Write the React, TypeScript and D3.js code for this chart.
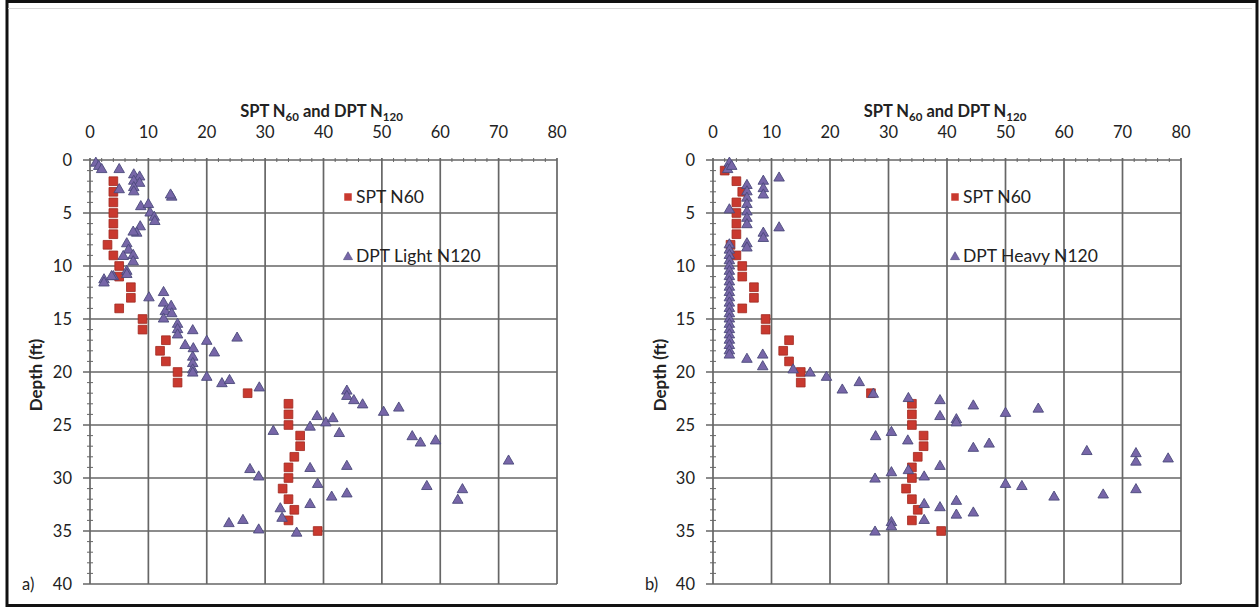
import React from "react";
import * as d3 from "d3";

// ---- Data (N value, depth ft) ----
const sptA: [number, number][] = [
  [4, 2], [4, 3], [4, 4], [4, 5], [4, 6], [4, 7], [3, 8], [4, 9], [5, 10], [5, 11],
  [7, 12], [7, 13], [5, 14], [9, 15], [9, 16], [13, 17], [12, 18], [13, 19], [15, 20], [15, 21],
  [27, 22], [34, 23], [34, 24], [34, 25], [36, 26], [36, 27], [35, 28], [34, 29], [34, 30], [33, 31],
  [34, 32], [35, 33], [34, 34], [39, 35],
];
const dptLightA: [number, number][] = [
  [1, 0.3], [1.5, 0.6], [2, 0.9], [5, 0.9], [7.5, 1.4], [8.5, 1.6], [7.5, 2], [8.5, 2.2], [7.5, 2.6],
  [7.5, 3], [5, 2.8], [14, 3.5], [13.8, 3.3], [8.7, 4.4], [10, 4.2], [10.3, 5], [11, 5.4], [11.1, 5.8],
  [8.6, 6.3], [8, 6.9], [7.4, 6.8], [6.3, 7.9], [6.6, 8.5], [7.4, 9], [7.4, 9.6], [5.7, 9.1], [6.3, 10.5],
  [4, 11], [2.4, 11.3], [2.4, 11.6], [3.7, 11], [6.3, 10.8], [10.1, 13], [12.6, 12.5], [12.6, 13.5],
  [12.9, 14.3], [12.6, 15], [13.9, 13.8], [14, 14.5], [15, 15.5], [15, 16], [15, 16.5], [17.6, 16.1],
  [16.3, 17.5], [17.7, 17.8], [20, 17.1], [21.3, 18.2], [25.2, 16.8], [17.6, 18.6], [17.6, 19.2],
  [17.6, 19.8], [17.6, 20.1], [20, 20.5], [22.6, 21.1], [23.9, 20.8], [29, 21.5], [31.4, 25.6],
  [37.7, 25.2], [38.9, 24.2], [40.4, 24.8], [41.6, 24.4], [42.7, 25.8], [44, 21.8], [44, 22.3],
  [45.2, 22.7], [46.7, 23.1], [50.3, 23.8], [52.9, 23.4], [55.2, 26.1], [56.6, 26.7], [59.2, 26.5],
  [71.7, 28.4], [37.7, 29.1], [44, 28.9], [27.4, 29.2], [28.9, 29.9], [39, 30.6], [57.7, 30.8],
  [63.8, 31.1], [63, 32.1], [41.4, 31.8], [44, 31.5], [37.7, 32.5], [32.6, 32.9], [32.9, 33.8],
  [23.8, 34.3], [26.2, 34], [28.9, 34.9], [35.4, 35.2],
];
const sptB: [number, number][] = [
  [2, 1], [4, 2], [5, 3], [4, 4], [4, 5], [4, 6], [4, 7], [3, 8], [4, 9], [5, 10], [5, 11],
  [7, 12], [7, 13], [5, 14], [9, 15], [9, 16], [13, 17], [12, 18], [13, 19], [15, 20], [15, 21],
  [27, 22], [34, 23], [34, 24], [34, 25], [36, 26], [36, 27], [35, 28], [34, 29], [34, 30], [33, 31],
  [34, 32], [35, 33], [34, 34], [39, 35],
];
const dptHeavyB: [number, number][] = [
  [2.8, 0.3], [2.5, 0.9], [3.2, 0.6], [11.3, 1.7], [8.6, 2], [8.6, 2.7], [8.6, 3.3], [5.8, 2.4],
  [5.8, 3], [5.8, 3.6], [5.8, 4.2], [5.8, 4.9], [5.8, 5.5], [5.8, 6.1], [2.8, 4.7], [11.3, 6.4],
  [8.6, 6.9], [8.6, 7.4], [5.8, 7.9], [5.8, 8.3],
  [2.8, 8.0], [2.8, 8.5], [2.8, 9.0], [2.8, 9.5], [2.8, 10.0], [2.8, 10.5], [2.8, 11.0], [2.8, 11.5],
  [2.8, 12.0], [2.8, 12.5], [2.8, 13.0], [2.8, 13.5], [2.8, 14.0], [2.8, 14.5], [2.8, 15.0],
  [2.8, 15.5], [2.8, 16.0], [2.8, 16.5], [2.8, 17.0], [2.8, 17.5], [2.8, 18.0], [2.8, 18.4],
  [5.8, 18.8], [8.5, 18.4], [8.5, 19.5], [13.7, 19.8], [16.6, 20.1], [19.4, 20.5], [22.1, 21.7],
  [25, 21], [27.4, 22.1], [27.8, 26.1], [30.5, 25.7], [33.4, 22.5], [33.3, 26.5], [38.8, 22.7],
  [38.8, 24.2], [41.6, 24.5], [41.6, 24.8], [44.5, 23.2], [50, 23.9], [55.6, 23.5], [44.5, 27.2],
  [47.2, 26.8], [63.9, 27.5], [72.3, 27.7], [72.3, 28.5], [77.8, 28.2], [38.8, 28.9], [30.5, 29.5],
  [33.4, 29.3], [36.1, 29.9], [27.7, 30.1], [50, 30.6], [52.8, 30.8], [58.3, 31.8], [66.7, 31.6],
  [72.3, 31.1], [36.1, 32.5], [41.6, 32.2], [38.8, 32.8], [41.6, 33.5], [44.5, 33.3], [36.1, 34],
  [30.5, 34.2], [30.5, 34.6], [27.7, 35.1],
];

const xTicks = [0, 10, 20, 30, 40, 50, 60, 70, 80];
const yTicks = [0, 5, 10, 15, 20, 25, 30, 35, 40];
const sptLabel = "SPT N60";

const FONT = "Lato, 'Open Sans', sans-serif";
const GRID = "#666";
const RED = "#c9392f";
const RED_STROKE = "#a0281f";
const PURPLE = "#7766a8";
const PURPLE_STROKE = "#4b4a7a";

const tri = d3.symbol(d3.symbolTriangle, 48)()!;
const sq = d3.symbol(d3.symbolSquare, 76)()!;

function Panel(props: {
  left: number; right: number; spt: [number, number][]; dpt: [number, number][];
  dptLabel: string; tag: string; legendX: number; yLabelX: number;
}) {
  const { left, right, spt, dpt, dptLabel, tag, legendX, yLabelX } = props;
  const x = d3.scaleLinear().domain([0, 80]).range([left, right]);
  const y = d3.scaleLinear().domain([0, 40]).range([160, 584]);
  const minorX = d3.range(0, 81, 2).filter((v) => v % 10 !== 0);
  const minorY = d3.range(0, 41, 1).filter((v) => v % 5 !== 0);
  const cx = (left + right) / 2 - 2;
  return (
    <g>
      {/* grid */}
      {yTicks.map((t) => (
        <line key={"gy" + t} x1={left - 7} x2={right} y1={y(t)} y2={y(t)} stroke={GRID} strokeWidth={1.7} />
      ))}
      {xTicks.map((t) => (
        <line key={"gx" + t} x1={x(t)} x2={x(t)} y1={y(0) - 2} y2={y(40)} stroke={GRID} strokeWidth={1.7} />
      ))}
      {minorX.map((t) => (
        <line key={"mx" + t} x1={x(t)} x2={x(t)} y1={y(0) - 2} y2={y(0) + 2} stroke={GRID} strokeWidth={1} />
      ))}
      {minorY.map((t) => (
        <line key={"my" + t} x1={left - 3} x2={left + 3} y1={y(t)} y2={y(t)} stroke={GRID} strokeWidth={1} />
      ))}
      {/* tick labels */}
      {xTicks.map((t) => (
        <text key={"tx" + t} x={x(t)} y={138} textAnchor="middle" fontSize={16.5} fontFamily={FONT} fill="#222">{t}</text>
      ))}
      {yTicks.map((t) => (
        <text key={"ty" + t} x={left - 18} y={y(t)} dy="0.35em" textAnchor="end" fontSize={16.5} fontFamily={FONT} fill="#222">{t}</text>
      ))}
      {/* axis titles */}
      <text x={cx} y={117} textAnchor="middle" fontSize={16.5} fontWeight="bold" fontFamily={FONT} fill="#222">
        <tspan>SPT N</tspan>
        <tspan fontSize={11.5} dy={4}>60</tspan>
        <tspan dy={-4}> and DPT N</tspan>
        <tspan fontSize={11.5} dy={4}>120</tspan>
      </text>
      <text transform={`translate(${yLabelX},375) rotate(-90)`} textAnchor="middle" fontSize={17} fontWeight="bold" fontFamily={FONT} fill="#222">Depth (ft)</text>
      <text x={left - 68} y={y(40)} dy="0.35em" fontSize={16.5} fontFamily={FONT} fill="#222">{tag}</text>
      {/* series */}
      {spt.map((d, i) => (
        <path key={"s" + i} d={sq} transform={`translate(${x(d[0])},${y(d[1])})`} fill={RED} stroke={RED_STROKE} strokeWidth={0.8} />
      ))}
      {dpt.map((d, i) => (
        <path key={"t" + i} d={tri} transform={`translate(${x(d[0])},${y(d[1])})`} fill={PURPLE} stroke={PURPLE_STROKE} strokeWidth={0.9} />
      ))}
      {/* legend */}
      <path d={d3.symbol(d3.symbolSquare, 56)()!} transform={`translate(${left + legendX},197)`} fill={RED} />
      <text x={left + legendX + 8} y={197} dy="0.35em" fontSize={17.5} fontFamily={FONT} fill="#222">{sptLabel}</text>
      <path d={d3.symbol(d3.symbolTriangle, 36)()!} transform={`translate(${left + legendX},257)`} fill={PURPLE} stroke={PURPLE_STROKE} strokeWidth={0.6} />
      <text x={left + legendX + 8} y={256} dy="0.35em" fontSize={17.5} fontFamily={FONT} fill="#222">{dptLabel}</text>
    </g>
  );
}

export default function App() {
  return (
    <svg width={1259} height={608} style={{ position: "absolute", left: 0, top: 0, background: "#fff" }}>
      <rect x={0} y={0} width={1259} height={608} fill="#fff" />
      <rect x={7} y={1.5} width={1250} height={604} fill="none" stroke="#111" strokeWidth={3} />
      <line x1={8} x2={1252} y1={8.5} y2={8.5} stroke="#d8d8d8" strokeWidth={1} />
      <Panel left={90} right={557} spt={sptA} dpt={dptLightA} dptLabel="DPT Light N120" tag="a)" legendX={258} yLabelX={42} />
      <Panel left={713} right={1181} spt={sptB} dpt={dptHeavyB} dptLabel="DPT Heavy N120" tag="b)" legendX={242} yLabelX={666} />
    </svg>
  );
}
